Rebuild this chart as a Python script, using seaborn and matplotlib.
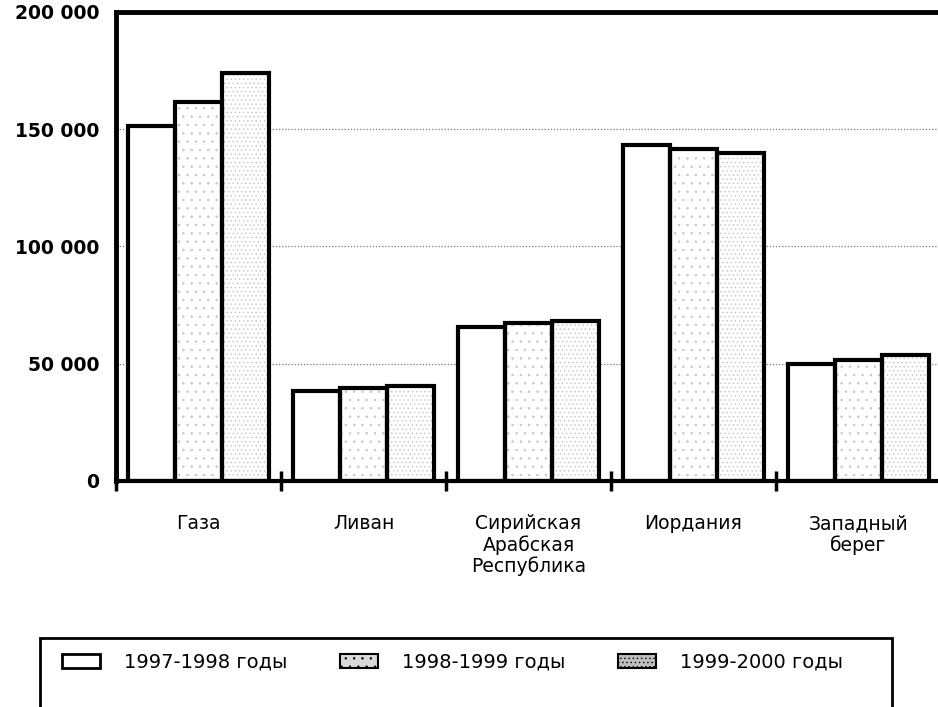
import matplotlib
matplotlib.use("Agg")
import matplotlib.pyplot as plt
import matplotlib.patches as mpatches
import seaborn as sns
import pandas as pd

categories = ["Газа", "Ливан", "Сирийская\nАрабская\nРеспублика", "Иордания", "Западный\nберег"]
series = ["1997-1998 годы", "1998-1999 годы", "1999-2000 годы"]
v_1997 = [151500, 38500, 65500, 143300, 49900]
v_1998 = [161800, 39500, 67200, 141600, 51600]
v_1999 = [173900, 40500, 68200, 139900, 53600]
yticks = [0, 50000, 100000, 150000, 200000]
ytick_labels = ["0", "50 000", "100 000", "150 000", "200 000"]

rows = []
for s, vals in zip(series, [v_1997, v_1998, v_1999]):
    for c, v in zip(categories, vals):
        rows.append({"cat": c, "series": s, "value": v})
df = pd.DataFrame(rows)

sns.set_style("white")
plt.rcParams["font.family"] = ["DejaVu Sans"]
plt.rcParams["hatch.linewidth"] = 0.5
plt.rcParams["text.color"] = "black"
plt.rcParams["xtick.color"] = "black"
plt.rcParams["ytick.color"] = "black"
plt.rcParams["xtick.labelcolor"] = "black"
plt.rcParams["ytick.labelcolor"] = "black"

W, H = 938, 707
fig = plt.figure(figsize=(W / 100, H / 100), dpi=100)
ax = fig.add_axes([116 / W, 1 - 481 / H, 825 / W, (481 - 12) / H])

hatches = [None, "..", "...."]

# layer 1: fills with light stipple
sns.barplot(data=df, x="cat", y="value", hue="series", order=categories,
            hue_order=series, palette=["white"] * 3, width=0.85, dodge=True,
            edgecolor="#c4c4c4", linewidth=0, legend=False, ax=ax, zorder=2)
n = len(categories)
for i, p in enumerate(ax.patches[: 3 * n]):
    h = hatches[i // n]
    if h:
        p.set_hatch(h)

# layer 2: black outlines
sns.barplot(data=df, x="cat", y="value", hue="series", order=categories,
            hue_order=series, palette=["black"] * 3, width=0.85, dodge=True,
            fill=False, linewidth=3, legend=False, ax=ax, zorder=3)

ax.set_xlim(-0.5, n - 0.5)
ax.set_ylim(0, 200000)
ax.set_yticks(yticks)
ax.set_yticklabels(ytick_labels, fontsize=13.5, fontweight="bold", color="black")
ax.set_xticks(range(n))
ax.set_xticklabels(categories, fontsize=13.5, linespacing=1.1, color="black")
ax.set_xlabel("")
ax.set_ylabel("")
ax.tick_params(axis="y", length=0, pad=12)
ax.tick_params(axis="x", which="major", bottom=False, length=0, pad=24)
ax.set_xticks([i - 0.5 for i in range(n + 1)], minor=True)
ax.tick_params(axis="x", which="minor", bottom=True, direction="inout",
               length=14, width=2.5, color="black")

for y in [50000, 100000, 150000]:
    ax.axhline(y, color="#777777", linestyle=(0, (1, 1.5)), linewidth=0.9, zorder=1)

for side in ["left", "top", "bottom"]:
    ax.spines[side].set_visible(True)
    ax.spines[side].set_color("black")
ax.spines["left"].set_linewidth(3.5)
ax.spines["top"].set_linewidth(3.5)
ax.spines["bottom"].set_linewidth(3)
ax.spines["right"].set_visible(False)

# legend
handles = [mpatches.Patch(facecolor="white", edgecolor="black", linewidth=2),
           mpatches.Patch(facecolor="#d9d9d9", edgecolor="black", linewidth=1.5, hatch=".."),
           mpatches.Patch(facecolor="#bdbdbd", edgecolor="black", linewidth=1.5, hatch="....")]
leg = fig.legend(handles, series, loc="center left", bbox_to_anchor=(62 / W, 1 - 662 / H),
                 ncol=3, frameon=False, fontsize=14, handlelength=1.95, handleheight=0.75,
                 handletextpad=1.25, columnspacing=2.7, borderpad=0, borderaxespad=0,
                 labelcolor="black")

frame = mpatches.Rectangle((40 / W, -0.05), (892 - 40) / W, 0.05 + (H - 638) / H,
                           transform=fig.transFigure, fill=False, edgecolor="black",
                           linewidth=2)
fig.add_artist(frame)

fig.savefig("out.png", dpi=100)
